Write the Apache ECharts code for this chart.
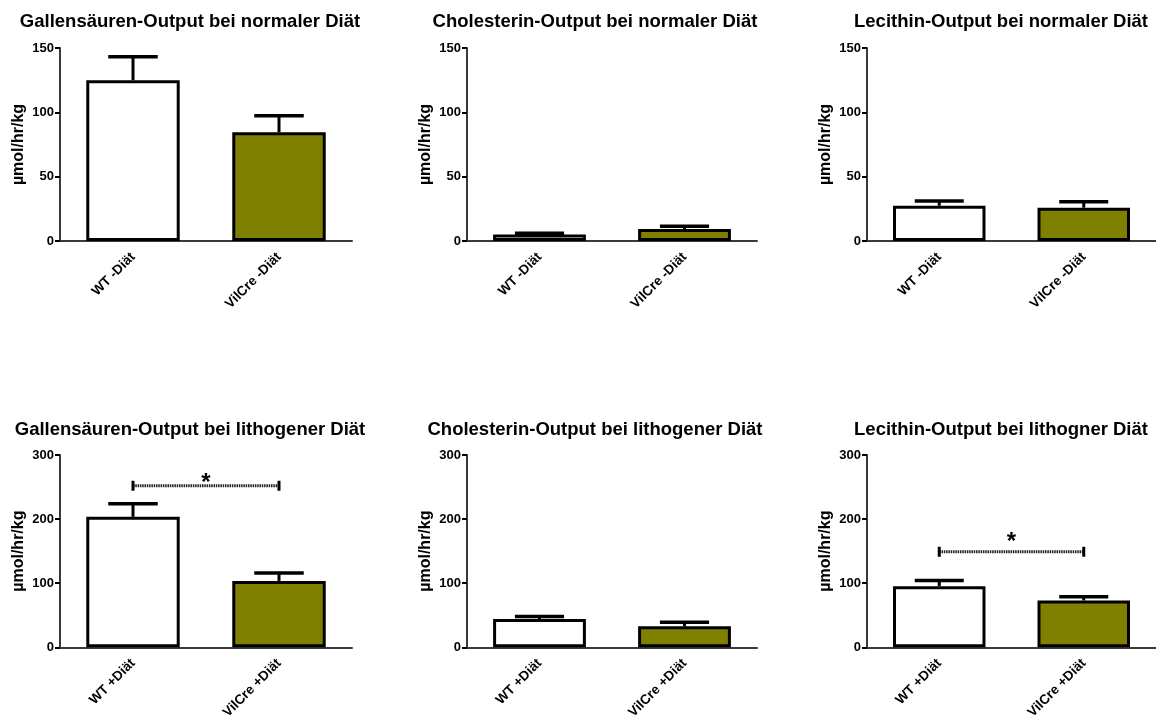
<!DOCTYPE html>
<html><head><meta charset="utf-8">
<script src="https://cdn.jsdelivr.net/npm/echarts@6/dist/echarts.min.js"></script>
<style>html,body{margin:0;padding:0;background:#fff}#c{width:1156px;height:722px}</style>
</head><body><div id="c"></div>
<script>
// ---- data ----
const titles = [
  'Gallensäuren-Output bei normaler Diät',
  'Cholesterin-Output bei normaler Diät',
  'Lecithin-Output bei normaler Diät',
  'Gallensäuren-Output bei lithogener Diät',
  'Cholesterin-Output bei lithogener Diät',
  'Lecithin-Output bei lithogner Diät'
];
const catsNormal = ['WT -Diät', 'VilCre -Diät'];
const catsLitho = ['WT +Diät', 'VilCre +Diät'];
const yName = 'µmol/hr/kg';
const yMaxNormal = 150, yStepNormal = 50;
const yMaxLitho = 300, yStepLitho = 100;
// means and mean+SEM for each panel [WT, VilCre]
const means = [
  [125, 84.5],
  [5, 9.3],
  [27.4, 25.9],
  [203.5, 103.5],
  [44, 32.6],
  [95.3, 73]
];
const errTops = [
  [143.2, 97.4],
  [6, 11.4],
  [31, 30.5],
  [223.8, 116],
  [48, 38.9],
  [104, 79]
];
// significance: [panel index, bar level, star level]
const sigs = [
  [3, 252, 268],
  [5, 149, 176]
];
const barColors = ['#ffffff', '#808000'];

// ---- layout ----
const colLeft = [60, 467, 867];
const colWidth = [292, 290, 289];
const titleX = [185, 590, 996];
const rowTop = [48, 455];
const rowTitleTop = [7, 415];
const gridH = 193;
const FONT = '"Liberation Sans", Arial, sans-serif';

const grid = [], xAxis = [], yAxis = [], series = [], title = [];
for (let i = 0; i < 6; i++) {
  const r = Math.floor(i / 3), c = i % 3;
  const litho = r === 1;
  grid.push({left: colLeft[c], top: rowTop[r], width: colWidth[c], height: gridH});
  title.push({text: titles[i], left: titleX[c], top: rowTitleTop[r], textAlign: 'center',
    textStyle: {fontFamily: FONT, fontWeight: 'bold', fontSize: 18.5, color: '#000'}});
  xAxis.push({type: 'category', gridIndex: i, data: litho ? catsLitho : catsNormal,
    axisLine: {lineStyle: {color: '#3a3a3a', width: 2}},
    axisTick: {alignWithLabel: true, length: 6, lineStyle: {color: '#000', width: 2}},
    axisLabel: {rotate: 45, margin: 14, fontFamily: FONT, fontWeight: 'bold', fontSize: 13.5, color: '#000', interval: 0},
    splitLine: {show: false}});
  yAxis.push({type: 'value', gridIndex: i, min: 0,
    max: litho ? yMaxLitho : yMaxNormal, interval: litho ? yStepLitho : yStepNormal,
    name: yName, nameLocation: 'middle', nameGap: 33,
    nameTextStyle: {fontFamily: FONT, fontWeight: 'bold', fontSize: 16, color: '#000'},
    axisLine: {show: true, lineStyle: {color: '#3a3a3a', width: 2}},
    axisTick: {show: true, length: 5, lineStyle: {color: '#000', width: 2}},
    axisLabel: {margin: 6, fontFamily: FONT, fontWeight: 'bold', fontSize: 13, color: '#000'},
    splitLine: {show: false}});
  series.push({type: 'bar', xAxisIndex: i, yAxisIndex: i, barWidth: '64%',
    data: means[i].map((v, k) => ({value: v, itemStyle: {color: barColors[k]}})),
    itemStyle: {borderColor: '#000', borderWidth: 3}, z: 3, silent: true});
  series.push({type: 'custom', xAxisIndex: i, yAxisIndex: i, z: 2, silent: true,
    data: means[i].map((v, k) => [k, v, errTops[i][k]]),
    renderItem: function (params, api) {
      const base = api.coord([api.value(0), api.value(1)]);
      const top = api.coord([api.value(0), api.value(2)]);
      const bw = api.size([1, 0])[0] * 0.64;
      const hw = bw * 0.265;
      return {type: 'group', children: [
        {type: 'line', shape: {x1: base[0], y1: base[1], x2: top[0], y2: top[1]}, style: {stroke: '#000', lineWidth: 3}},
        {type: 'line', shape: {x1: top[0] - hw, y1: top[1], x2: top[0] + hw, y2: top[1]}, style: {stroke: '#000', lineWidth: 3.5}}
      ]};
    }});
}
sigs.forEach(function (s) {
  const i = s[0];
  series.push({type: 'custom', xAxisIndex: i, yAxisIndex: i, z: 4, silent: true,
    data: [[0, 1, s[1], s[2]]],
    renderItem: function (params, api) {
      const a = api.coord([api.value(0), api.value(2)]);
      const b = api.coord([api.value(1), api.value(2)]);
      const sy = api.coord([api.value(0), api.value(3)])[1];
      const sx = (a[0] + b[0]) / 2;
      return {type: 'group', children: [
        {type: 'line', shape: {x1: a[0], y1: a[1], x2: b[0], y2: b[1]}, style: {stroke: '#222', lineWidth: 3, lineDash: [1.5, 0.8]}},
        {type: 'line', shape: {x1: a[0], y1: a[1] - 5, x2: a[0], y2: a[1] + 5}, style: {stroke: '#000', lineWidth: 3}},
        {type: 'line', shape: {x1: b[0], y1: b[1] - 5, x2: b[0], y2: b[1] + 5}, style: {stroke: '#000', lineWidth: 3}},
        {type: 'text', x: sx, y: sy + 7.5, style: {text: '*', font: 'bold 24px ' + FONT, fill: '#000', align: 'center', verticalAlign: 'middle'}}
      ]};
    }});
});

const chart = echarts.init(document.getElementById('c'), null, {renderer: 'canvas'});
chart.setOption({animation: false, backgroundColor: '#fff', title: title, grid: grid, xAxis: xAxis, yAxis: yAxis, series: series});
</script></body></html>
